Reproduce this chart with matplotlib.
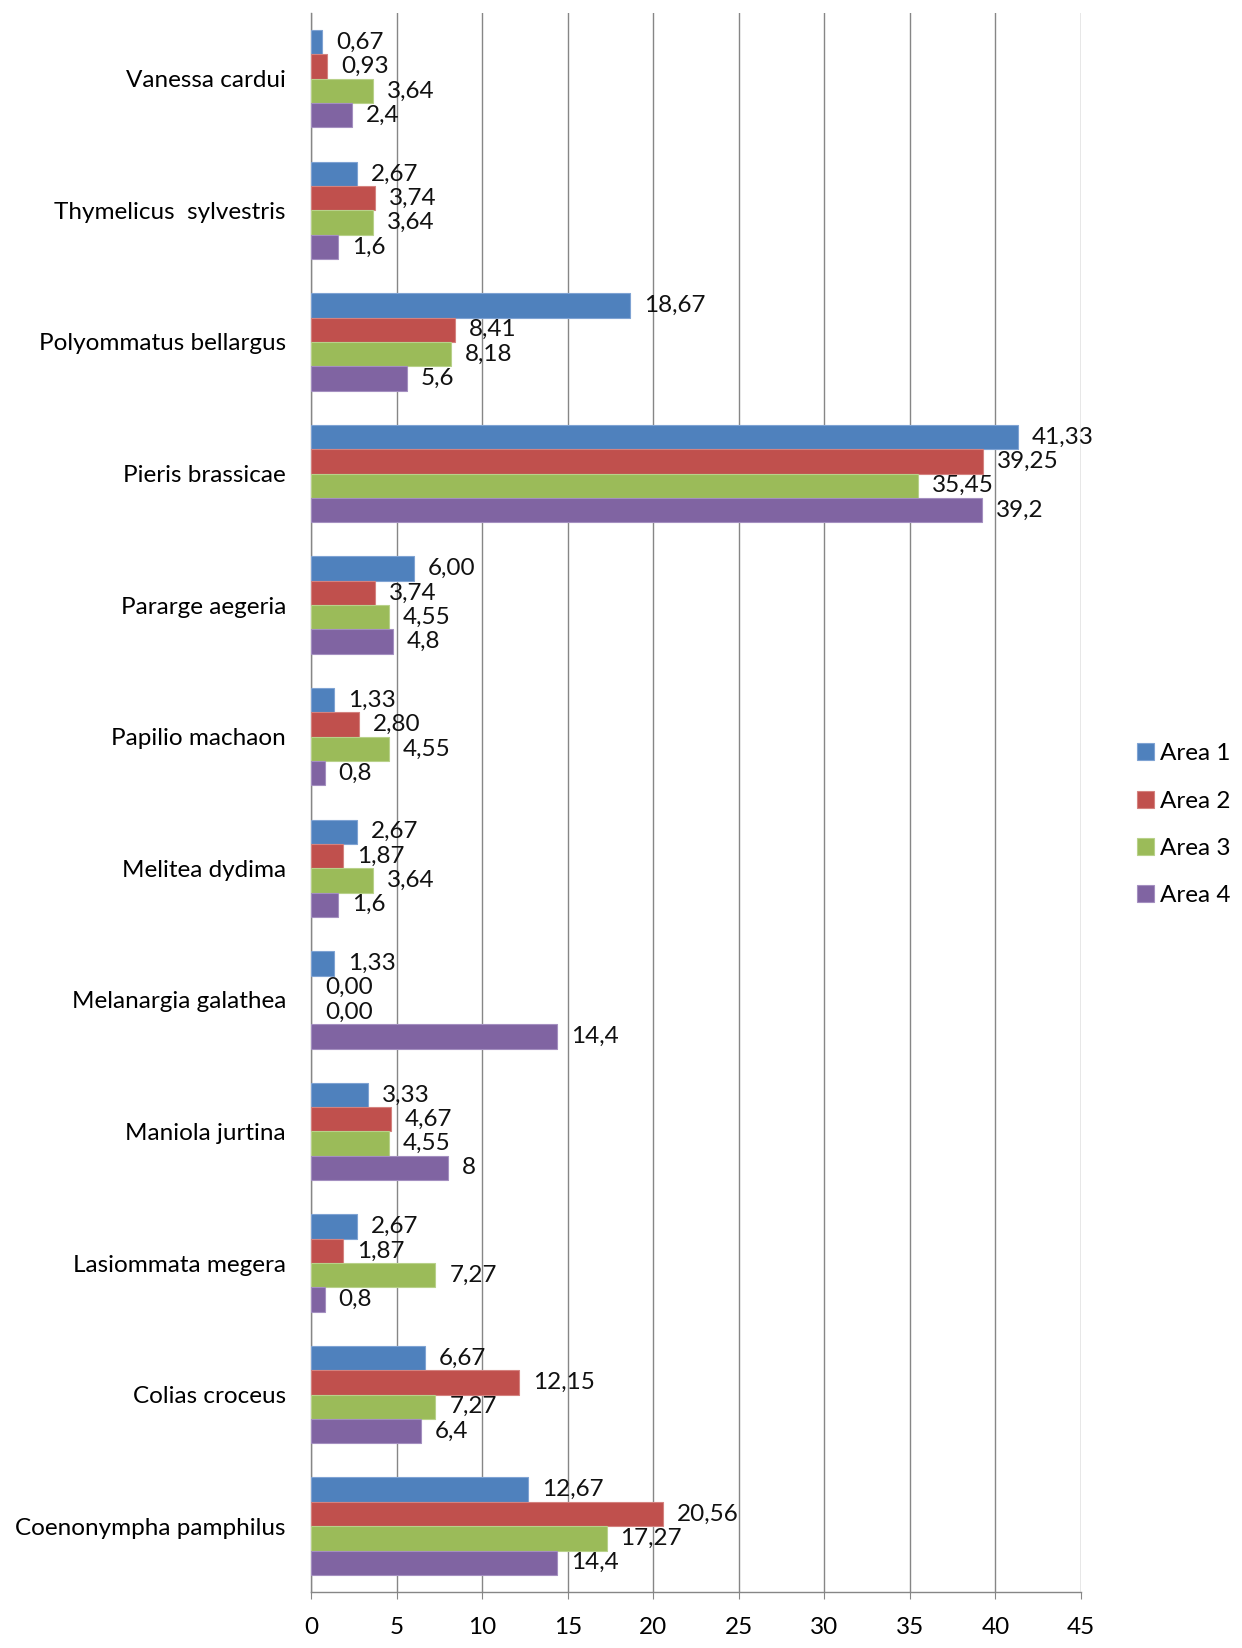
import numpy as np
import matplotlib
matplotlib.use("Agg")
import matplotlib.pyplot as plt

plt.rcParams['font.family'] = ['Lato', 'DejaVu Sans']

species = ["Vanessa cardui", "Thymelicus  sylvestris", "Polyommatus bellargus",
           "Pieris brassicae", "Pararge aegeria", "Papilio machaon",
           "Melitea dydima", "Melanargia galathea", "Maniola jurtina",
           "Lasiommata megera", "Colias croceus", "Coenonympha pamphilus"]
area1 = [0.67, 2.67, 18.67, 41.33, 6.00, 1.33, 2.67, 1.33, 3.33, 2.67, 6.67, 12.67]
area2 = [0.93, 3.74, 8.41, 39.25, 3.74, 2.80, 1.87, 0.00, 4.67, 1.87, 12.15, 20.56]
area3 = [3.64, 3.64, 8.18, 35.45, 4.55, 4.55, 3.64, 0.00, 4.55, 7.27, 7.27, 17.27]
area4 = [2.4, 1.6, 5.6, 39.2, 4.8, 0.8, 1.6, 14.4, 8, 0.8, 6.4, 14.4]
series_names = ["Area 1", "Area 2", "Area 3", "Area 4"]
x_ticks = [0, 5, 10, 15, 20, 25, 30, 35, 40, 45]

colors = ["#4F81BD", "#C0504D", "#9BBB59", "#8064A2"]
edges = ["#7FA3D3", "#D4827F", "#B8D18A", "#A48FC0"]

def fmt2(v):
    return "{:.2f}".format(v).replace(".", ",")

def fmtg(v):
    return "{:g}".format(v).replace(".", ",")

formats = [fmt2, fmt2, fmt2, fmtg]

fig = plt.figure(figsize=(12.42, 16.48), dpi=100)
ax = fig.add_axes([0.2504, 0.034, 0.62, 0.9581])

y = np.arange(len(species))
h = 0.185
fs = 17.5
for k, vals in enumerate([area1, area2, area3, area4]):
    pos = y + (k - 1.5) * h
    bars = ax.barh(pos, vals, height=h, color=colors[k], edgecolor=edges[k],
                   linewidth=0.8, label=series_names[k], zorder=3)
    for b, v in zip(bars, vals):
        if v == 0:
            b.set_visible(False)
    for p, v in zip(pos, vals):
        ax.annotate(formats[k](v), (v, p), xytext=(10, 0), textcoords="offset points",
                    va="center", ha="left", fontsize=fs, color="#111111", zorder=4)

ax.set_xlim(0, 45)
ax.set_ylim(len(species) - 0.5, -0.5)
ax.set_xticks(x_ticks)
ax.set_xticklabels([str(t) for t in x_ticks])
ax.set_yticks(y)
ax.set_yticklabels(species)
ax.tick_params(axis="y", length=0, pad=18, labelsize=fs)
ax.tick_params(axis="x", length=5, color="#868686", pad=13, labelsize=fs)
ax.grid(axis="x", color="#868686", linewidth=1, zorder=0)
for s in ["top", "right"]:
    ax.spines[s].set_visible(False)
for s in ["left", "bottom"]:
    ax.spines[s].set_color("#868686")
    ax.spines[s].set_linewidth(1)

fig.legend(loc="center left", bbox_to_anchor=(0.9075, 0.4995), frameon=False,
           fontsize=fs, handlelength=0.7, handleheight=0.7, handletextpad=0.25,
           labelspacing=1.08, borderaxespad=0)

fig.savefig("out.png", dpi=100)
